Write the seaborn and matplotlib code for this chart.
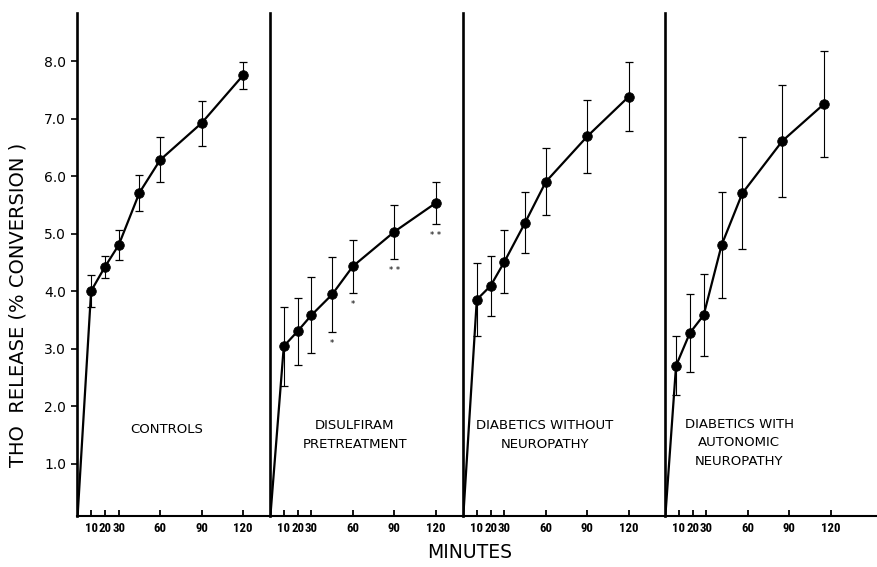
import matplotlib
matplotlib.use("Agg")
import matplotlib.pyplot as plt
import seaborn as sns
import pandas as pd
from matplotlib import font_manager

# ---------------- data ----------------
minutes = [10, 20, 30, 45, 60, 90, 120]
minutes_autonomic = [8, 18, 28, 41, 56, 85, 115]   # points as plotted in last panel
start_minute = 0
start_value = 0.0

panel_titles = ["CONTROLS", "DISULFIRAM\nPRETREATMENT",
                "DIABETICS WITHOUT\nNEUROPATHY",
                "DIABETICS WITH\nAUTONOMIC\nNEUROPATHY"]

controls_mean = [4.00, 4.42, 4.80, 5.71, 6.28, 6.92, 7.75]
controls_err = [0.27, 0.19, 0.26, 0.31, 0.39, 0.39, 0.23]

disulfiram_mean = [3.04, 3.30, 3.58, 3.94, 4.43, 5.03, 5.53]
disulfiram_err = [0.69, 0.58, 0.66, 0.66, 0.46, 0.47, 0.37]
disulfiram_sig = ["", "", "", "*", "*", "* *", "* *"]

diabetic_mean = [3.85, 4.09, 4.51, 5.19, 5.90, 6.69, 7.38]
diabetic_err = [0.63, 0.52, 0.55, 0.53, 0.58, 0.64, 0.60]

autonomic_mean = [2.70, 3.27, 3.58, 4.80, 5.70, 6.61, 7.25]
autonomic_err = [0.51, 0.68, 0.71, 0.92, 0.97, 0.98, 0.92]

x_ticks = [10, 20, 30, 60, 90, 120]
x_tick_labels = ["10", "20", "30", "60", "90", "120"]
y_ticks = [1, 2, 3, 4, 5, 6, 7, 8]
y_tick_labels = ["1.0", "2.0", "3.0", "4.0", "5.0", "6.0", "7.0", "8.0"]

# ---------------- style ----------------
sns.set_style("ticks")
plt.rcParams["font.family"] = ["DejaVu Sans"]
names = {f.name for f in font_manager.fontManager.ttflist}
narrow = None
for cand in ["Liberation Sans Narrow", "DejaVu Sans Condensed", "Roboto Condensed",
             "Open Sans Condensed", "Noto Sans Condensed"]:
    if cand in names:
        narrow = cand
        break
if narrow is None:
    tick_font = dict(family="DejaVu Sans", fontsize=7.3, fontweight="normal")
else:
    tick_font = dict(family=narrow, fontsize=9.2, fontweight="bold")

W, H = 878, 567
fig = plt.figure(figsize=(W / 100, H / 100), dpi=100)

px_per_min = 1.381
lefts = [77.3, 270.0, 463.0, 665.0]
rights = [270.0, 463.0, 665.0, 878.0]
ax_bottom, ax_top = 516.0, 13.0
ylim = (0.087, 8.835)

panels = [
    (minutes, controls_mean, controls_err, None),
    (minutes, disulfiram_mean, disulfiram_err, disulfiram_sig),
    (minutes, diabetic_mean, diabetic_err, None),
    (minutes_autonomic, autonomic_mean, autonomic_err, None),
]
title_pos = [(64.7, 1.60), (61.5, 1.50), (59.4, 1.50), (53.6, 1.36)]

axes = []
for i, (tx, mean, err, sig) in enumerate(panels):
    l, r = lefts[i], rights[i]
    ax = fig.add_axes([l / W, 1 - ax_bottom / H, (r - l) / W, (ax_bottom - ax_top) / H])
    axes.append(ax)
    xmax = (r - l) / px_per_min
    df_line = pd.DataFrame({"minutes": [start_minute] + list(tx),
                            "release": [start_value] + list(mean)})
    df_pts = pd.DataFrame({"minutes": tx, "release": mean})
    sns.lineplot(data=df_line, x="minutes", y="release", color="black",
                 linewidth=1.6, estimator=None, sort=False, ax=ax, zorder=3)
    ax.errorbar(tx, mean, yerr=err, fmt="none", ecolor="black",
                elinewidth=0.8, capsize=2.6, capthick=0.9, zorder=2)
    sns.scatterplot(data=df_pts, x="minutes", y="release", color="black",
                    edgecolor="black", s=48, ax=ax, zorder=4, legend=False)
    if sig is not None:
        for xv, m, e, s in zip(tx, mean, err, sig):
            if s:
                ax.text(xv, m - e - 0.12, s, ha="center", va="top",
                        fontsize=6, color="black")
    ax.set_xlim(0, xmax)
    ax.set_ylim(*ylim)
    ax.set_xlabel("")
    ax.set_ylabel("")
    ax.set_xticks(x_ticks)
    ax.set_xticklabels(x_tick_labels, **tick_font)
    ax.tick_params(axis="x", direction="in", length=4, width=1.3, pad=4, colors="black")
    for s in ["top", "right"]:
        ax.spines[s].set_visible(False)
    ax.spines["left"].set_linewidth(1.9)
    ax.spines["bottom"].set_linewidth(1.5)
    ax.spines["left"].set_color("black")
    ax.spines["bottom"].set_color("black")
    if i == 0:
        ax.set_yticks(y_ticks)
        ax.set_yticklabels(y_tick_labels, fontsize=10)
        ax.tick_params(axis="y", direction="out", length=4, width=1.2, pad=4, colors="black")
    else:
        ax.set_yticks([])
    tx_, ty_ = title_pos[i]
    ax.text(tx_, ty_, panel_titles[i], ha="center", va="center", fontsize=9.5,
            linespacing=1.55, color="black")
    ax.patch.set_alpha(0)

fig.text(18 / W, 1 - 305 / H, "THO  RELEASE (% CONVERSION )", rotation=90,
         ha="center", va="center", fontsize=14, color="black")
fig.text(470 / W, 1 - 553 / H, "MINUTES", ha="center", va="center",
         fontsize=13.5, color="black")

fig.savefig("out.png", dpi=100)
